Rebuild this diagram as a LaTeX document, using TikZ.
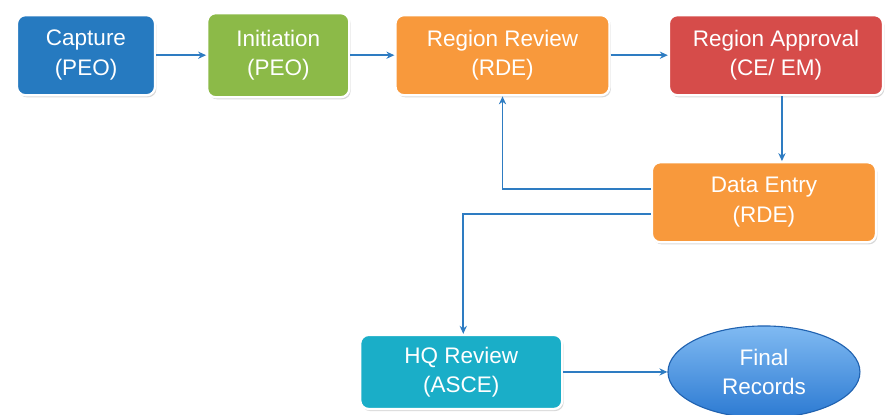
\documentclass[tikz,border=0pt]{standalone}
\usepackage{fontspec}
\setmainfont{Liberation Sans}
\usepackage{xcolor}
\definecolor{capblue}{RGB}{38,122,192}
\definecolor{inigreen}{RGB}{140,186,72}
\definecolor{revorange}{RGB}{248,153,60}
\definecolor{apprred}{RGB}{214,76,74}
\definecolor{hqteal}{RGB}{26,174,200}
\definecolor{finlight}{RGB}{128,186,242}
\definecolor{findark}{RGB}{44,122,210}
\definecolor{finedge}{RGB}{32,98,176}
\definecolor{arrblue}{RGB}{46,124,194}
\usetikzlibrary{positioning,arrows.meta,shapes.geometric,shadows}

\begin{document}
\begin{tikzpicture}[
  font=\fontsize{16}{21}\selectfont,
  stagebox/.style={rounded corners=6pt, draw=white, line width=1.6pt,
                   align=center, text=white, inner sep=4pt,
                   drop shadow={opacity=0.3, shadow xshift=1pt, shadow yshift=-1.5pt}},
  endnode/.style={ellipse, draw=finedge, line width=0.8pt, align=center,
                  text=white, top color=finlight, bottom color=findark,
                  minimum width=4.8cm, minimum height=2.3cm, inner sep=2pt},
  flow/.style={-{Stealth[length=2mm, width=1.8mm]}, line width=1.4pt, draw=arrblue},
]
\useasboundingbox (0,0) rectangle (22.15,-10.35);

% --- top row ---
\node[stagebox, fill=capblue, minimum width=3.45cm, minimum height=2.0cm]
  (cap) at (2.15,-1.38) {Capture\\(PEO)};
\node[stagebox, fill=inigreen, minimum width=3.55cm, minimum height=2.1cm,
      right=1.25cm of cap] (ini) {Initiation\\(PEO)};
\node[stagebox, fill=revorange, minimum width=5.35cm, minimum height=2.0cm,
      right=1.1cm of ini] (rr) {Region Review\\(RDE)};
\node[stagebox, fill=apprred, minimum width=5.35cm, minimum height=2.0cm,
      right=1.43cm of rr] (ra) {Region Approval\\(CE/ EM)};

% --- data entry ---
\node[stagebox, fill=revorange, minimum width=5.6cm, minimum height=2.0cm,
      below=1.62cm of ra, xshift=-0.3cm] (de) {Data Entry\\(RDE)};

% --- bottom row ---
\node[endnode, below=2.05cm of de] (fr) {Final\\Records};
\node[stagebox, fill=hqteal, minimum width=5.05cm, minimum height=1.85cm,
      left=2.6cm of fr] (hq) {HQ Review\\(ASCE)};

\draw[flow] (cap) -- (ini);
\draw[flow] (ini) -- (rr);
\draw[flow] (rr) -- (ra);
\draw[flow] ([xshift=0.15cm]ra.south) -- ([xshift=0.15cm]ra.south |- de.north);
\draw[flow] ([yshift=0.33cm]de.west) -| (rr);
\draw[flow] ([yshift=-0.3cm]de.west) -| ([xshift=0.05cm]hq.north);
\draw[flow] (hq) -- (fr);
\end{tikzpicture}
\end{document}
